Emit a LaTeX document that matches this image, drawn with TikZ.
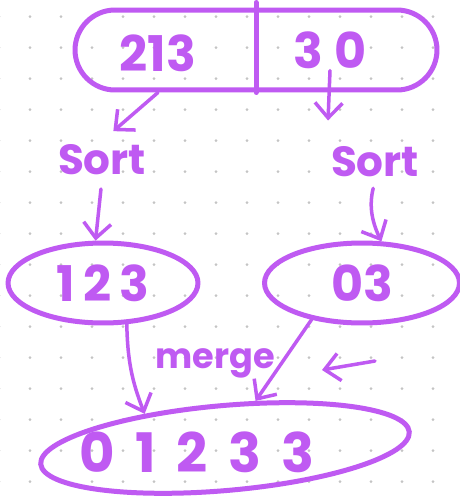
\documentclass[tikz,border=0pt]{standalone}
\usepackage{fontspec}
\setmainfont{Poppins}
\usetikzlibrary{arrows.meta,shapes.geometric}
\definecolor{ink}{HTML}{BF5AF2}
\definecolor{dot}{HTML}{C4C4C4}
\begin{document}
\begin{tikzpicture}[x=0.02cm,y=-0.02cm,
    blob/.style={draw=ink, line width=0.1cm, line cap=round},
    digits/.style={text=ink, font=\fontsize{28}{30}\selectfont\bfseries, inner sep=1pt},
    word/.style={text=ink, font=\fontsize{24}{26}\selectfont\bfseries, inner sep=2pt},
    arr/.style={draw=ink, line width=0.07cm, line cap=round, -{Straight Barb[length=0.3cm,width=0.55cm]}}]
    \fill[white] (0,0) rectangle (460,501);
    \useasboundingbox (0,0) rectangle (460,501);
    \foreach \i in {-1,...,14}
      \foreach \j in {0,...,15}
        \fill[dot] (30+31*\i,16.7+31*\j) circle (0.03cm);
    \node[blob, rounded corners=0.8cm, minimum width=7.24cm, minimum height=1.6cm] (T) at (256,50) {};
    \node[digits] (L) at (158,53) {213};
    \node[digits] (R) at (330,50) {3 0};
    \draw[blob] ([yshift=0.1cm]T.north) -- (T.south);
    \node[word] (sL) at (102,160) {Sort};
    \node[word] (sR) at (375,162) {Sort};
    \node[blob, ellipse, digits, minimum width=3.8cm, minimum height=1.6cm] (A) at (103,283) {1\,2\,3};
    \node[blob, ellipse, digits, minimum width=3.9cm, minimum height=1.6cm] (B) at (362,283) {03};
    \node[blob, ellipse, rotate=5, minimum width=7.4cm, minimum height=1.7cm] (M) at (225,448) {};
    \node[digits, font=\fontsize{31}{33}\selectfont\bfseries] (D) at (197,452) {0\, 1\, 2\, 3\, 3};
    \node[word, font=\fontsize{20}{22}\selectfont\bfseries] (mg) at (215,363) {merge};
    \draw[arr, shorten >=0.3cm] (L |- T.south) -- (sL.north);
    \draw[arr, shorten >=0.45cm] (R.south) -- (sR.north west);
    \draw[arr, shorten <=0.2cm] (sL.south) -- (A.100);
    \draw[arr, shorten <=0.15cm] (sR.south) to[bend right=20] (B.65);
    \draw[arr] (A.-60) to[bend right=10] (M.152);
    \draw[arr] (B.216) -- (M.52);
    \coordinate (hT) at (375,361);
    \coordinate (hH) at (322,370);
    \draw[arr] (hT) -- (hH);
  \end{tikzpicture}
\end{document}
